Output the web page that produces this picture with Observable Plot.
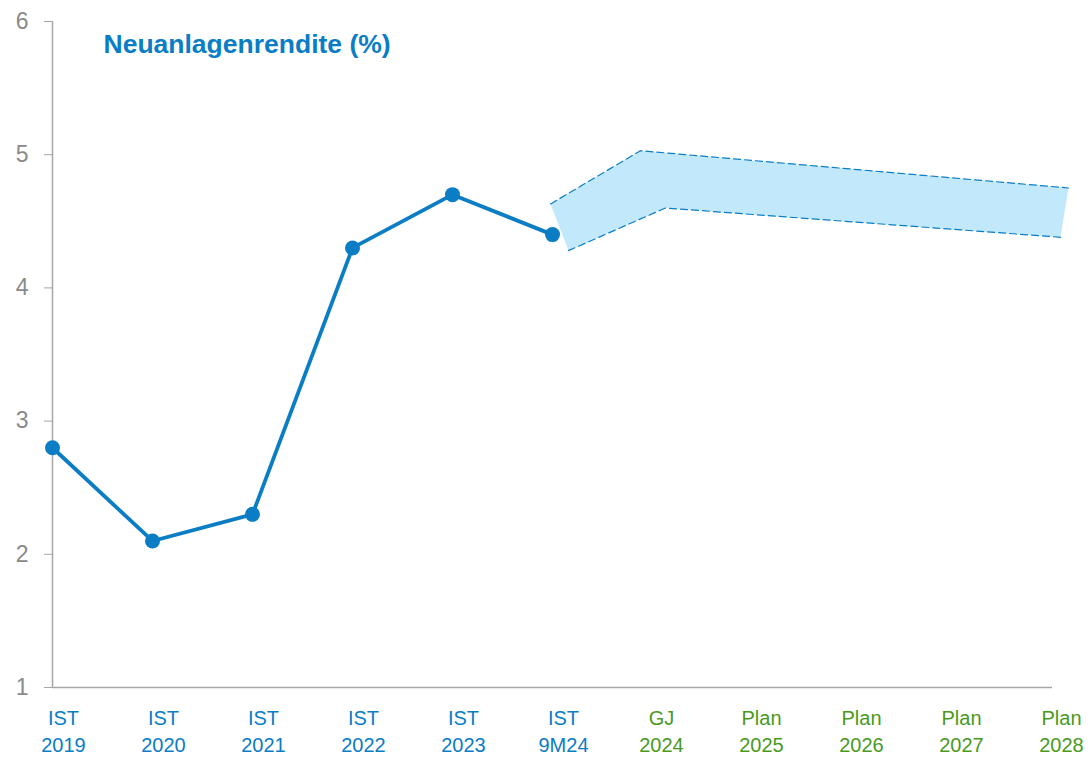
<!DOCTYPE html>
<html><head><meta charset="utf-8">
<script src="https://cdn.jsdelivr.net/npm/d3@7"></script>
<script src="https://cdn.jsdelivr.net/npm/@observablehq/plot@0.6"></script>
<style>
body{margin:0;background:#fff;font-family:"Liberation Sans",Arial,sans-serif;}
</style></head><body><div id="chart"></div>
<script>
const categories = ["IST\n2019","IST\n2020","IST\n2021","IST\n2022","IST\n2023","IST\n9M24","GJ\n2024","Plan\n2025","Plan\n2026","Plan\n2027","Plan\n2028"];
const actualValues = [2.8, 2.1, 2.3, 4.3, 4.7, 4.4];
// forecast band corners (x as category index, y in %)
const bandUpperX = [4.98, 5.88, 10.16];
const bandUpperY = [4.63, 5.03, 4.75];
const bandLowerX = [5.16, 6.13, 10.08];
const bandLowerY = [4.28, 4.60, 4.38];
const yTicks = [1,2,3,4,5,6];
const title = "Neuanlagenrendite (%)";

const blue = "#0a7dc5", green = "#4a9a1c", gray = "#a6a6a6";
const actual = actualValues.map((v,i)=>({i, v}));
const upper = bandUpperX.map((x,k)=>({x, y: bandUpperY[k]}));
const lower = bandLowerX.map((x,k)=>({x, y: bandLowerY[k]}));
const polygon = [...upper, ...lower.slice().reverse()];
const cats = categories.map((c,i)=>({i, c}));

const chart = Plot.plot({
  width: 1091, height: 757,
  marginLeft: 52, marginRight: 39, marginTop: 21, marginBottom: 70,
  style: {fontFamily: "'Liberation Sans', Arial, sans-serif", background: "#fff"},
  x: {domain: [0, 10], axis: null},
  y: {domain: [1, 6], axis: null},
  marks: [
    Plot.line(polygon, {x: "x", y: "y", fill: "#c2e8fc", stroke: "none", curve: "linear-closed"}),
    Plot.line(upper, {x: "x", y: "y", stroke: blue, strokeWidth: 1.2, strokeDasharray: "7,4"}),
    Plot.line(lower, {x: "x", y: "y", stroke: blue, strokeWidth: 1.2, strokeDasharray: "7,4"}),
    Plot.ruleX([0], {stroke: gray, strokeWidth: 1.5}),
    Plot.ruleY([1], {stroke: gray, strokeWidth: 1.5}),
    Plot.axisY({ticks: yTicks, tickSize: 8, tickPadding: 16, stroke: gray, fill: "#8a8a8a", fontSize: 23, tickFormat: d=>String(d)}),
    Plot.line(actual, {x: "i", y: "v", stroke: blue, strokeWidth: 3.8}),
    Plot.dot(actual, {x: "i", y: "v", r: 7.5, fill: blue, stroke: "none"}),
    Plot.text(cats.filter(d=>d.i<=5), {x: "i", text: "c", frameAnchor: "bottom", dy: 64, dx: 11, fill: blue, fontSize: 20, lineHeight: 1.35}),
    Plot.text(cats.filter(d=>d.i>5), {x: "i", text: "c", frameAnchor: "bottom", dy: 64, dx: 9, fill: green, fontSize: 20, lineHeight: 1.35}),
    Plot.text([title], {frameAnchor: "top-left", dx: 51, dy: 13, text: d=>d, fill: blue, fontSize: 26.5, fontWeight: "bold", textAnchor: "start", lineAnchor: "top"})
  ]
});
document.getElementById("chart").appendChild(chart);
</script></body></html>
